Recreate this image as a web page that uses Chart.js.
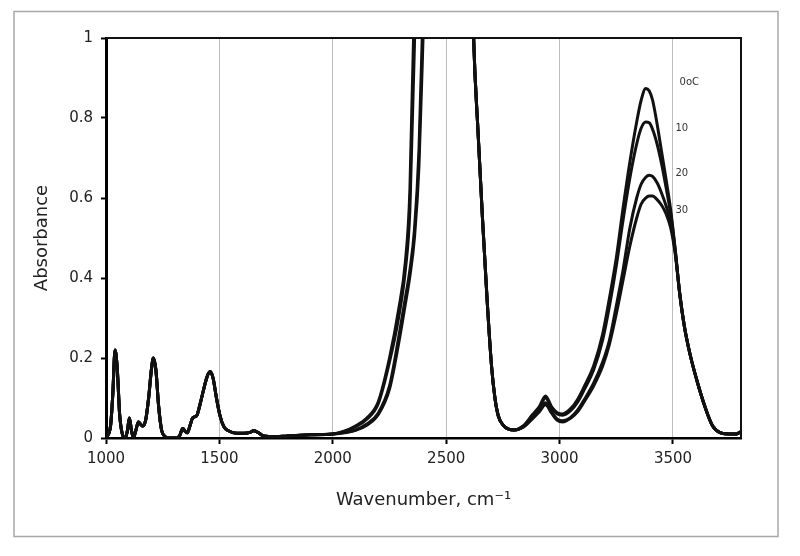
<!DOCTYPE html>
<html>
<head>
<meta charset="utf-8">
<script src="https://cdn.jsdelivr.net/npm/chart.js@4.4.1/dist/chart.umd.min.js"></script>
<style>
  html, body { margin: 0; padding: 0; background: #fff; }
  #wrap { position: relative; width: 800px; height: 556px; }
</style>
</head>
<body>
<div id="wrap"><canvas id="irChart"></canvas></div>
<script>
// low-wavenumber part, the same for every temperature
const wnLow = [1000, 1020, 1030, 1040, 1050, 1060, 1072, 1085, 1095, 1103, 1112, 1121, 1132, 1143, 1153,
  1162, 1175, 1188, 1200, 1209, 1220, 1232, 1245, 1258, 1270, 1290, 1312, 1325, 1338, 1350,
  1359, 1370, 1382, 1400, 1415, 1430, 1445, 1459, 1472, 1487, 1503, 1520, 1540, 1577, 1610,
  1635, 1651, 1670, 1695, 1750, 1800, 1900, 2000];
const absLow = [0.0, 0.03, 0.11, 0.22, 0.17, 0.06, 0.01, 0.0, 0.02, 0.05, 0.02, 0.0, 0.02, 0.04, 0.034,
  0.03, 0.045, 0.1, 0.17, 0.2, 0.17, 0.08, 0.02, 0.005, 0.0, 0.0, 0.0, 0.006, 0.024, 0.016,
  0.013, 0.03, 0.05, 0.056, 0.085, 0.12, 0.152, 0.166, 0.15, 0.1, 0.055, 0.028, 0.018, 0.012, 0.012,
  0.014, 0.018, 0.014, 0.005, 0.003, 0.005, 0.008, 0.01];

// high-wavenumber part, one row per temperature
const wnHigh = [2050, 2100, 2150, 2200, 2250, 2290, 2320, 2340, 2360, 2380, 2400, 2450, 2500, 2550, 2600,
  2620, 2640, 2660, 2680, 2700, 2715, 2730, 2750, 2775, 2800, 2840, 2880, 2910, 2938, 2965,
  2990, 3013, 3050, 3080, 3110, 3150, 3190, 3220, 3250, 3280, 3310, 3340, 3360, 3380, 3395,
  3410, 3430, 3450, 3470, 3490, 3510, 3530, 3550, 3575, 3610, 3640, 3675, 3710, 3750, 3780, 3800];

const abs0 = [0.017, 0.03, 0.05, 0.09, 0.2, 0.32, 0.44, 0.62, 1.1, 1.7, 2.2, 2.6, 2.7, 2.5, 1.6,
  1.02, 0.77, 0.55, 0.35, 0.18, 0.1, 0.055, 0.033, 0.022, 0.02, 0.03, 0.058, 0.078, 0.105, 0.078,
  0.063, 0.06, 0.074, 0.097, 0.13, 0.18, 0.26, 0.35, 0.45, 0.575, 0.69, 0.79, 0.845, 0.874, 0.868,
  0.845, 0.785, 0.715, 0.645, 0.57, 0.47, 0.36, 0.28, 0.21, 0.135, 0.08, 0.03, 0.013, 0.01, 0.01, 0.016];
const abs10 = [0.016, 0.028, 0.047, 0.085, 0.19, 0.3, 0.42, 0.57, 0.98, 1.6, 2.1, 2.5, 2.6, 2.4, 1.6,
  1.02, 0.77, 0.55, 0.35, 0.18, 0.1, 0.055, 0.033, 0.022, 0.02, 0.03, 0.056, 0.075, 0.1, 0.075,
  0.06, 0.057, 0.069, 0.09, 0.122, 0.17, 0.245, 0.33, 0.43, 0.545, 0.65, 0.735, 0.775, 0.79, 0.788,
  0.772, 0.735, 0.685, 0.625, 0.56, 0.47, 0.36, 0.28, 0.21, 0.135, 0.08, 0.03, 0.013, 0.01, 0.01, 0.016];
const abs20 = [0.014, 0.02, 0.035, 0.062, 0.13, 0.25, 0.35, 0.42, 0.52, 0.72, 1.12, 2.1, 2.5, 2.4, 1.6,
  1.02, 0.77, 0.55, 0.35, 0.18, 0.1, 0.055, 0.033, 0.022, 0.02, 0.028, 0.05, 0.068, 0.088, 0.065,
  0.047, 0.043, 0.052, 0.07, 0.097, 0.137, 0.19, 0.245, 0.33, 0.42, 0.525, 0.6, 0.635, 0.652, 0.657,
  0.654, 0.638, 0.612, 0.58, 0.54, 0.465, 0.36, 0.28, 0.21, 0.135, 0.08, 0.03, 0.013, 0.01, 0.01, 0.016];
const abs30 = [0.013, 0.019, 0.032, 0.058, 0.122, 0.235, 0.335, 0.405, 0.5, 0.68, 1.04, 2.0, 2.4, 2.3, 1.6,
  1.02, 0.77, 0.55, 0.35, 0.18, 0.1, 0.055, 0.033, 0.022, 0.02, 0.027, 0.048, 0.065, 0.083, 0.062,
  0.044, 0.04, 0.05, 0.066, 0.092, 0.13, 0.18, 0.235, 0.31, 0.395, 0.48, 0.55, 0.585, 0.6, 0.605,
  0.605, 0.596, 0.582, 0.56, 0.525, 0.46, 0.36, 0.28, 0.21, 0.135, 0.08, 0.03, 0.013, 0.01, 0.01, 0.016];

const seriesNames = ['0oC', '10', '20', '30'];
const seriesValues = [abs0, abs10, abs20, abs30];

const xTicks = [1000, 1500, 2000, 2500, 3000, 3500];
const xTickLabels = ['1000', '1500', '2000', '2500', '3000', '3500'];
const yTicks = [0, 0.2, 0.4, 0.6, 0.8, 1];
const yTickLabels = ['0', '0.2', '0.4', '0.6', '0.8', '1'];

// where the series names sit, in data units
const nameSpots = [[3529, 0.89], [3511, 0.774], [3511, 0.661], [3511, 0.569]];

const buildSeries = vals =>
  wnLow.map((w, i) => ({ x: w, y: absLow[i] }))
    .concat(wnHigh.map((w, i) => ({ x: w, y: vals[i] })));

const framePlugin = {
  id: 'frame',
  beforeDraw(chart) {
    const c = chart.ctx;
    c.save();
    c.strokeStyle = '#a8a8a8';
    c.lineWidth = 1.5;
    c.strokeRect(14, 11.5, 764, 525);
    c.restore();
  },
  afterDatasetsDraw(chart) {
    const c = chart.ctx, a = chart.chartArea;
    c.save();
    c.strokeStyle = '#111';
    c.lineWidth = 2;
    c.beginPath();
    c.moveTo(a.left, a.top);
    c.lineTo(a.right, a.top);
    c.lineTo(a.right, a.bottom);
    c.stroke();
    c.restore();
  }
};

const namePlugin = {
  id: 'names',
  afterDatasetsDraw(chart) {
    const c = chart.ctx, sx = chart.scales.x, sy = chart.scales.y;
    c.save();
    c.font = '10px "DejaVu Sans"';
    c.fillStyle = '#333';
    c.textAlign = 'left';
    c.textBaseline = 'middle';
    seriesNames.forEach((n, i) => {
      c.fillText(n, sx.getPixelForValue(nameSpots[i][0]), sy.getPixelForValue(nameSpots[i][1]));
    });
    c.restore();
  }
};

const ctx = document.getElementById('irChart').getContext('2d');
new Chart(ctx, {
  type: 'line',
  data: {
    datasets: seriesNames.map((name, i) => ({
      label: name,
      data: buildSeries(seriesValues[i]),
      borderColor: '#111',
      borderWidth: 3,
      pointRadius: 0,
      cubicInterpolationMode: 'monotone',
      fill: false
    }))
  },
  options: {
    responsive: true,
    maintainAspectRatio: false,
    animation: false,
    layout: { padding: { top: 38, right: 59, left: 0, bottom: 0 } },
    plugins: { legend: { display: false }, tooltip: { enabled: false } },
    scales: {
      x: {
        type: 'linear', min: 1000, max: 3800,
        afterFit: s => { s.height = 118; },
        afterBuildTicks: s => { s.ticks = xTicks.map(v => ({ value: v })); },
        grid: { color: '#bdbdbd', lineWidth: 1, tickColor: '#000', tickLength: 6, tickWidth: 2 },
        border: { color: '#000', width: 2.5 },
        ticks: {
          color: '#222', font: { family: 'DejaVu Sans', size: 15 }, padding: 6, maxRotation: 0,
          callback: (v, i) => xTickLabels[i]
        },
        title: {
          display: true, text: 'Wavenumber, cm⁻¹', color: '#222',
          font: { family: 'DejaVu Sans', size: 18 }, padding: { bottom: 45 }
        }
      },
      y: {
        type: 'linear', min: 0, max: 1,
        afterFit: s => { s.width = 106; },
        afterBuildTicks: s => { s.ticks = yTicks.map(v => ({ value: v })); },
        grid: { drawOnChartArea: false, tickColor: '#000', tickLength: 5, tickWidth: 2 },
        border: { color: '#000', width: 3 },
        ticks: {
          color: '#222', font: { family: 'DejaVu Sans', size: 15 }, padding: 8,
          callback: (v, i) => yTickLabels[i]
        },
        title: {
          display: true, text: 'Absorbance', color: '#222',
          font: { family: 'DejaVu Sans', size: 18 }, padding: { top: 32 }
        }
      }
    }
  },
  plugins: [framePlugin, namePlugin]
});
</script>
</body>
</html>
